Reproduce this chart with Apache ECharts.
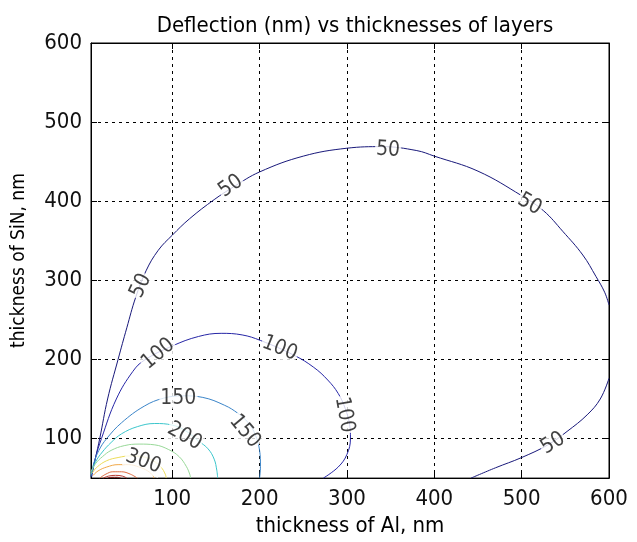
<!DOCTYPE html>
<html>
<head>
<meta charset="utf-8">
<title>Deflection contour</title>
<script src="https://cdn.jsdelivr.net/npm/echarts@6.0.0/dist/echarts.min.js"></script>
<style>
	html,body{margin:0;padding:0;background:#fff;}
	#main{width:637px;height:542px;}
</style>
</head>
<body>
<div id="main"></div>
<script>
// tick labels
var xTicks = [100, 200, 300, 400, 500, 600];
var yTicks = [100, 200, 300, 400, 500, 600];

// contour levels (nm), points as [Al, SiN]
var levels = [50, 50, 100, 150, 200, 250, 300, 350, 400, 450, 500];

var c50a = [[7,52],[12,75],[17,100],[26,150],[38,200],[48,240],[58,278],[70,312],[84,338],[100,357],[120,378],[148,402],[170,418],[200,437],[250,457],[300,467],[340,469],[380,464],[400,457],[450,438],[500,407],[525,388],[547,362],[570,332],[585,305],[595,285],[600,269]];
var c50b = [[442,50],[470,63],[500,76],[530,92],[552,109],[575,130],[590,150],[600,176]];
var c100 = [[8,52],[12,75],[19,100],[36,150],[55,185],[68,199],[100,217],[130,229],[156,233],[180,231],[201,224],[240,205],[262,190],[278,174],[290,157],[298,138],[303,118],[304,100],[300,80],[290,64],[273,50]];
var c150 = [[7,52],[10,68],[16,85],[25,100],[42,120],[68,141],[90,151],[112,154],[135,152],[160,142],[175,132],[187,120],[195,105],[200,85],[201,65],[200,50]];
var c200 = [[7,55],[12,70],[20,83],[30,95],[42,106],[60,115],[80,119],[100,117],[115,110],[130,97],[141,87],[148,74],[151,60],[152,50]];
var c250 = [[7,58],[12,68],[20,77],[30,85],[45,91],[62,93],[80,92],[96,86],[108,77],[116,65],[120,55],[121,50]];
var c300 = [[8,56],[14,64],[25,72],[38,76],[52,78],[66,77],[78,72],[87,64],[92,55],[93,50]];
var c350 = [[9,53],[15,59],[25,64],[38,67],[50,67],[62,64],[72,59],[78,53],[79,50]];
var c400 = [[17,50],[24,55],[32,58],[42,58],[52,55],[60,50]];
var c450 = [[21,50],[27,52.5],[35,53.5],[43,52.5],[48,50]];
var c500 = [[26,50],[31,51],[37,51],[41,50]];

// inline labels [Al, SiN, text]
var contourLabels = [
	[64,293,'50'],[167,419,'50'],[347,465,'50'],[509,396,'50'],[536,94,'50'],
	[84,207,'100'],[223,214,'100'],[297,130,'100'],
	[107,151,'150'],[183,109,'150'],
	[114,103,'200'],
	[67,71,'300']
];

function getLines(){
	return [c50a, c50b, c100, c150, c200, c250, c300, c350, c400, c450, c500];
}
// jet-ish, a bit muted like the screenshot
function getColors(){
	return ['#18187a','#18187a','#2626a6','#3a84c8','#3cc6cc','#98d898','#ecdc58','#f0a848','#dc6a40','#b83a30','#7a1010'];
}
function labelAngles(){
	return [65,35,-4,-30,32, 40,-22,-80, 0,-50, -30, -20];
}

var FONT = "'Liberation Sans Narrow','DejaVu Sans Condensed','Liberation Sans',sans-serif";

function setSeriesArray(){
	var lines = getLines(), colors = getColors();
	var seriesArr = [];
	lines.map(function(item, i){
		seriesArr.push({
			name: 'c' + levels[i],
			type: 'line',
			data: item,
			smooth: 0.4,
			symbol: 'none',
			clip: true,
			lineStyle: { color: colors[i], width: 1 },
			silent: true
		});
	});

	var ang = labelAngles();
	seriesArr.push({
		name: 'labels',
		type: 'scatter',
		symbolSize: 0.1,
		itemStyle: { color: 'transparent' },
		data: contourLabels.map(function(d, i){
			return {
				value: [d[0], d[1]],
				label: { formatter: d[2], rotate: ang[i] }
			};
		}),
		label: {
			show: true,
			position: 'inside',
			color: '#111',
			fontFamily: FONT,
			fontSize: 21,
			backgroundColor: '#fff',
			padding: [0, 1]
		},
		z: 10
	});
	return seriesArr;
}

function axisX(pos, show){
	return {
		type: 'value',
		position: pos,
		min: 7,
		max: 600,
		name: show ? 'thickness of Al, nm' : '',
		nameLocation: 'middle',
		nameGap: 36,
		nameTextStyle: { color: '#000', fontFamily: FONT, fontSize: 22 },
		axisLine: { show: true, lineStyle: { color: '#000', width: 1 } },
		axisTick: { show: true, inside: true, length: 6, customValues: xTicks, lineStyle: { color: '#000' } },
		axisLabel: { show: show, customValues: xTicks, color: '#111', fontFamily: FONT, fontSize: 22, margin: 10 },
		splitLine: { show: show, lineStyle: { color: '#000', type: [3, 4], width: 1 } }
	};
}
function axisY(pos, show){
	return {
		type: 'value',
		position: pos,
		min: 50,
		max: 600,
		name: show ? 'thickness of SiN, nm' : '',
		nameLocation: 'middle',
		nameGap: 62,
		nameTextStyle: { color: '#000', fontFamily: FONT, fontSize: 19 },
		axisLine: { show: true, lineStyle: { color: '#000', width: 1 } },
		axisTick: { show: true, inside: true, length: 6, customValues: yTicks, lineStyle: { color: '#000' } },
		axisLabel: { show: show, customValues: yTicks, color: '#111', fontFamily: FONT, fontSize: 22, margin: 9 },
		splitLine: { show: show, lineStyle: { color: '#000', type: [3, 4], width: 1 } }
	};
}

function initOpt(){
	return {
		animation: false,
		backgroundColor: '#fff',
		title: {
			text: 'Deflection (nm) vs thicknesses of layers',
			left: 350,
			textAlign: 'center',
			top: 10,
			textStyle: { color: '#000', fontFamily: FONT, fontSize: 22, fontWeight: 'normal' }
		},
		grid: {
			left: 91, right: 28, top: 43, bottom: 62,
			show: true, borderColor: '#000', borderWidth: 1, backgroundColor: '#fff'
		},
		xAxis: [axisX('bottom', true), axisX('top', false)],
		yAxis: [axisY('left', true), axisY('right', false)],
		series: setSeriesArray()
	};
}

var myChart = echarts.init(document.getElementById('main'), null, { renderer: 'canvas' });
myChart.setOption(initOpt());
</script>
</body>
</html>
